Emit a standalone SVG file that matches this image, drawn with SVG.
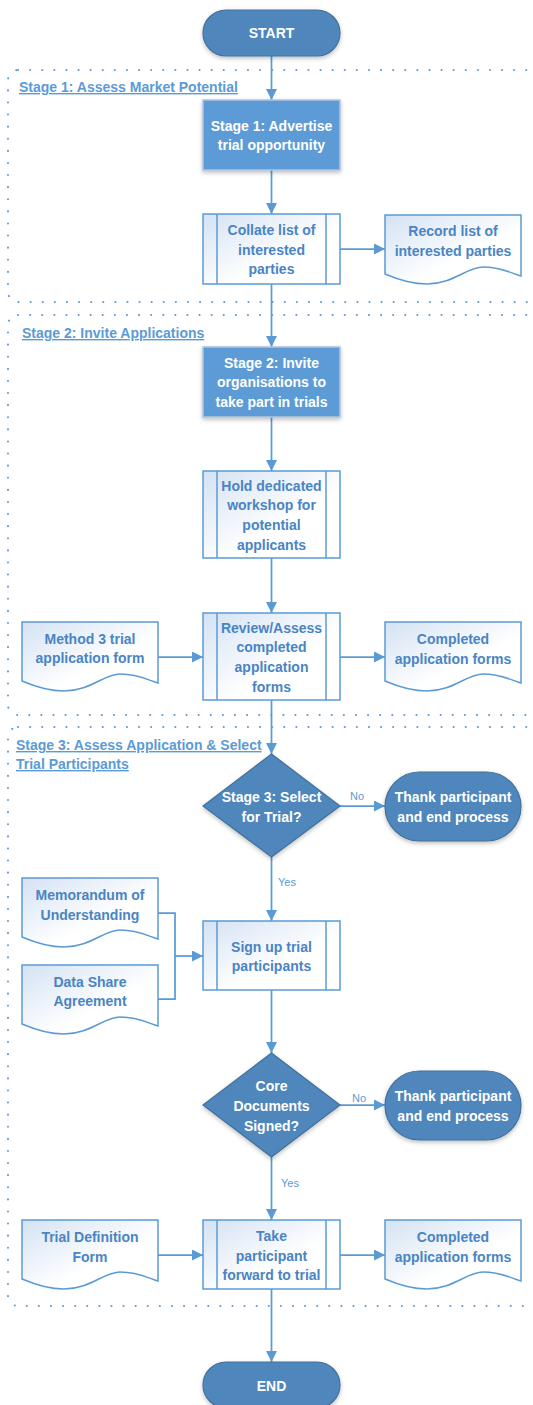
<svg xmlns="http://www.w3.org/2000/svg" xmlns:xlink="http://www.w3.org/1999/xlink" width="533" height="1405" viewBox="0 0 533 1405">
<style>
.term{fill:#4f86bb;stroke:#41719c;stroke-width:1.2}
.stage{fill:#5b9bd5;stroke:#b0c4de;stroke-width:1.5}
.proc{fill:url(#lg);stroke:#5b9bd5;stroke-width:1.5}
.pl{stroke:#5b9bd5;stroke-width:1.5}
.doc{fill:url(#lg);stroke:#5b9bd5;stroke-width:1.5}
.wt{font-family:"Liberation Sans",Arial,sans-serif;font-weight:bold;font-size:14px;fill:#ffffff;text-anchor:middle}
.bt{font-family:"Liberation Sans",Arial,sans-serif;font-weight:bold;font-size:14px;fill:#4a84c4;text-anchor:middle}
.hd{font-family:"Liberation Sans",Arial,sans-serif;font-weight:bold;font-size:14px;fill:#5b9bd5;text-decoration:underline}
.yn{font-family:"Liberation Sans",Arial,sans-serif;font-size:11px;fill:#5b9bd5;text-anchor:middle}
.conn{fill:none;stroke:#5b9bd5;stroke-width:1.75}
.dots{fill:none;stroke:#5b9bd5;stroke-width:2;stroke-linecap:round;stroke-dasharray:0.1 12}
</style>
<defs>
<linearGradient id="lg" x1="0" y1="0" x2="1" y2="1">
<stop offset="0" stop-color="#d4e2f3"/>
<stop offset="0.6" stop-color="#ffffff"/>
</linearGradient>
<filter id="sh" x="-10%" y="-10%" width="130%" height="140%">
<feDropShadow dx="0" dy="2" stdDeviation="2" flood-color="#000" flood-opacity="0.25"/>
</filter>
<marker id="ah" markerUnits="userSpaceOnUse" markerWidth="11" markerHeight="11" viewBox="0 0 11 11" refX="11" refY="5.5" orient="auto">
<path d="M0,0 L11,5.5 L0,11 z" fill="#5b9bd5"/>
</marker>
<path id="docShape" d="M0,0 H136 V61 C126,58 116,52 98,52 C82,52 68,69 42,69 C27,69 14,65 0,59 Z"/>
</defs>

<g id="stages">
<rect class="dots" x="8" y="70" width="540" height="232" rx="10"/>
<text class="hd" x="19" y="92">Stage 1: Assess Market Potential</text>
<rect class="dots" x="8" y="315" width="540" height="400" rx="10"/>
<text class="hd" x="22" y="338">Stage 2: Invite Applications</text>
<rect class="dots" x="8" y="727" width="540" height="579" rx="10"/>
<text class="hd" x="16" y="750">Stage 3: Assess Application &amp; Select</text>
<text class="hd" x="16" y="769">Trial Participants</text>
</g>

<g id="connectors">
<path class="conn" d="M271.5,56 V100" marker-end="url(#ah)"/>
<path class="conn" d="M271.5,170 V214" marker-end="url(#ah)"/>
<path class="conn" d="M271.5,284 V347" marker-end="url(#ah)"/>
<path class="conn" d="M271.5,417 V471" marker-end="url(#ah)"/>
<path class="conn" d="M271.5,558 V613" marker-end="url(#ah)"/>
<path class="conn" d="M271.5,700 V754" marker-end="url(#ah)"/>
<path class="conn" d="M271.5,857 V921" marker-end="url(#ah)"/>
<path class="conn" d="M271.5,990 V1053" marker-end="url(#ah)"/>
<path class="conn" d="M271.5,1157 V1220" marker-end="url(#ah)"/>
<path class="conn" d="M271.5,1289 V1362" marker-end="url(#ah)"/>
<path class="conn" d="M340,249 H385" marker-end="url(#ah)"/>
<path class="conn" d="M158,657 H203" marker-end="url(#ah)"/>
<path class="conn" d="M340,657 H385" marker-end="url(#ah)"/>
<path class="conn" d="M340,806 H385" marker-end="url(#ah)"/>
<path class="conn" d="M158,913 H175 V999 H158"/>
<path class="conn" d="M175,956 H203" marker-end="url(#ah)"/>
<path class="conn" d="M340,1105 H385" marker-end="url(#ah)"/>
<path class="conn" d="M158,1255 H203" marker-end="url(#ah)"/>
<path class="conn" d="M340,1255 H385" marker-end="url(#ah)"/>
<text class="yn" x="357" y="800">No</text>
<text class="yn" x="287" y="886">Yes</text>
<text class="yn" x="359" y="1102">No</text>
<text class="yn" x="290" y="1187">Yes</text>
</g>

<g id="start">
<rect class="term" x="203" y="10" width="137" height="46" rx="23" filter="url(#sh)"/>
<text class="wt" x="271.5" y="38">START</text>
</g>

<g id="stage1">
<rect class="stage" x="203" y="100" width="137" height="70" filter="url(#sh)"/>
<text class="wt" x="271.5" y="131">Stage 1: Advertise</text>
<text class="wt" x="271.5" y="150">trial opportunity</text>
</g>

<g id="collate">
<rect class="proc" x="203" y="214" width="137" height="70"/>
<line class="pl" x1="217" y1="214" x2="217" y2="284"/>
<line class="pl" x1="326" y1="214" x2="326" y2="284"/>
<text class="bt" x="271.5" y="235">Collate list of</text>
<text class="bt" x="271.5" y="255">interested</text>
<text class="bt" x="271.5" y="274">parties</text>
</g>

<g id="record">
<use href="#docShape" class="doc" transform="translate(385,215)"/>
<text class="bt" x="453" y="236">Record list of</text>
<text class="bt" x="453" y="256">interested parties</text>
</g>

<g id="stage2">
<rect class="stage" x="203" y="347" width="137" height="70" filter="url(#sh)"/>
<text class="wt" x="271.5" y="368">Stage 2: Invite</text>
<text class="wt" x="271.5" y="387">organisations to</text>
<text class="wt" x="271.5" y="407">take part in trials</text>
</g>

<g id="workshop">
<rect class="proc" x="203" y="471" width="137" height="87"/>
<line class="pl" x1="217" y1="471" x2="217" y2="558"/>
<line class="pl" x1="326" y1="471" x2="326" y2="558"/>
<text class="bt" x="271.5" y="491">Hold dedicated</text>
<text class="bt" x="271.5" y="510">workshop for</text>
<text class="bt" x="271.5" y="530">potential</text>
<text class="bt" x="271.5" y="550">applicants</text>
</g>

<g id="method3">
<use href="#docShape" class="doc" transform="translate(22,622)"/>
<text class="bt" x="90" y="644">Method 3 trial</text>
<text class="bt" x="90" y="663">application form</text>
</g>

<g id="review">
<rect class="proc" x="203" y="613" width="137" height="87"/>
<line class="pl" x1="217" y1="613" x2="217" y2="700"/>
<line class="pl" x1="326" y1="613" x2="326" y2="700"/>
<text class="bt" x="271.5" y="633">Review/Assess</text>
<text class="bt" x="271.5" y="652">completed</text>
<text class="bt" x="271.5" y="672">application</text>
<text class="bt" x="271.5" y="692">forms</text>
</g>

<g id="completed1">
<use href="#docShape" class="doc" transform="translate(385,622)"/>
<text class="bt" x="453" y="644">Completed</text>
<text class="bt" x="453" y="664">application forms</text>
</g>

<g id="select">
<polygon class="term" points="271.5,754 340,806 271.5,857 203,806" filter="url(#sh)"/>
<text class="wt" x="271.5" y="802">Stage 3: Select</text>
<text class="wt" x="271.5" y="822">for Trial?</text>
</g>

<g id="thank1">
<rect class="term" x="385" y="772" width="136" height="69" rx="34.5" filter="url(#sh)"/>
<text class="wt" x="453" y="802">Thank participant</text>
<text class="wt" x="453" y="822">and end process</text>
</g>

<g id="memorandum">
<use href="#docShape" class="doc" transform="translate(22,878)"/>
<text class="bt" x="90" y="900">Memorandum of</text>
<text class="bt" x="90" y="920">Understanding</text>
</g>

<g id="datashare">
<use href="#docShape" class="doc" transform="translate(22,965)"/>
<text class="bt" x="90" y="987">Data Share</text>
<text class="bt" x="90" y="1006">Agreement</text>
</g>

<g id="signup">
<rect class="proc" x="203" y="921" width="137" height="69"/>
<line class="pl" x1="217" y1="921" x2="217" y2="990"/>
<line class="pl" x1="326" y1="921" x2="326" y2="990"/>
<text class="bt" x="271.5" y="952">Sign up trial</text>
<text class="bt" x="271.5" y="971">participants</text>
</g>

<g id="coredocs">
<polygon class="term" points="271.5,1053 340,1105 271.5,1157 203,1105" filter="url(#sh)"/>
<text class="wt" x="271.5" y="1091">Core</text>
<text class="wt" x="271.5" y="1111">Documents</text>
<text class="wt" x="271.5" y="1131">Signed?</text>
</g>

<g id="thank2">
<rect class="term" x="385" y="1071" width="136" height="69" rx="34.5" filter="url(#sh)"/>
<text class="wt" x="453" y="1101">Thank participant</text>
<text class="wt" x="453" y="1121">and end process</text>
</g>

<g id="trialdef">
<use href="#docShape" class="doc" transform="translate(22,1220)"/>
<text class="bt" x="90" y="1242">Trial Definition</text>
<text class="bt" x="90" y="1262">Form</text>
</g>

<g id="take">
<rect class="proc" x="203" y="1220" width="137" height="69"/>
<line class="pl" x1="217" y1="1220" x2="217" y2="1289"/>
<line class="pl" x1="326" y1="1220" x2="326" y2="1289"/>
<text class="bt" x="271.5" y="1241">Take</text>
<text class="bt" x="271.5" y="1261">participant</text>
<text class="bt" x="271.5" y="1280">forward to trial</text>
</g>

<g id="completed2">
<use href="#docShape" class="doc" transform="translate(385,1220)"/>
<text class="bt" x="453" y="1242">Completed</text>
<text class="bt" x="453" y="1262">application forms</text>
</g>

<g id="end">
<rect class="term" x="203" y="1362" width="137" height="46" rx="23" filter="url(#sh)"/>
<text class="wt" x="271.5" y="1391">END</text>
</g>
</svg>
